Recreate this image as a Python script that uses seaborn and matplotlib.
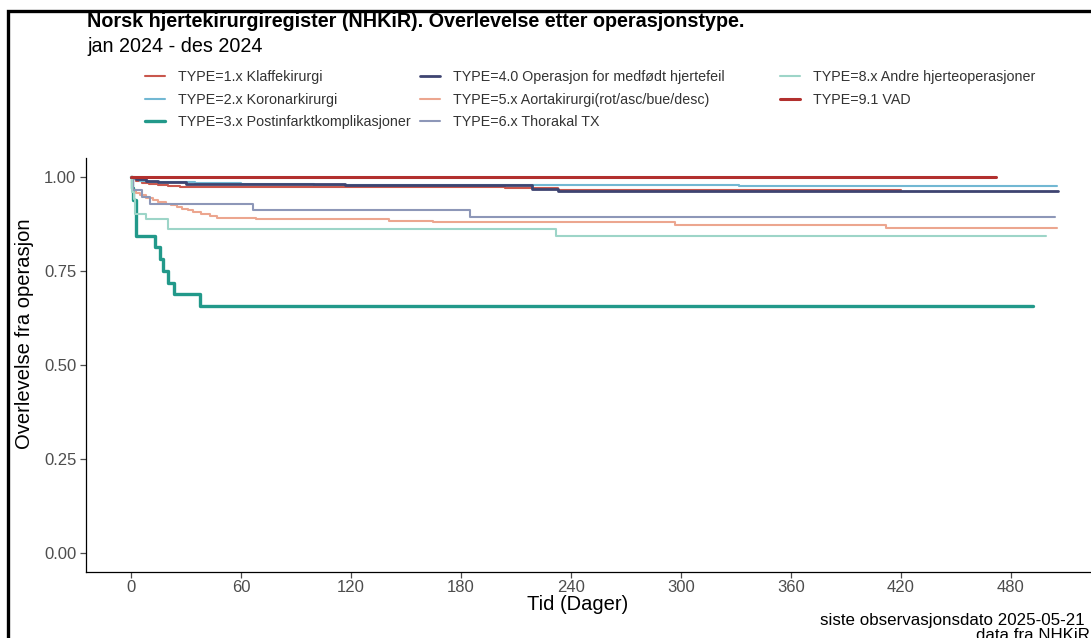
import matplotlib
matplotlib.use("Agg")
import matplotlib.pyplot as plt
import numpy as np
import pandas as pd
import seaborn as sns
from matplotlib.lines import Line2D
from matplotlib.patches import Rectangle

# ---- Kaplan-Meier step data per operation type (days, survival) ----
typer = [
    "TYPE=1.x Klaffekirurgi",
    "TYPE=2.x Koronarkirurgi",
    "TYPE=3.x Postinfarktkomplikasjoner",
    "TYPE=4.0 Operasjon for medfødt hjertefeil",
    "TYPE=5.x Aortakirurgi(rot/asc/bue/desc)",
    "TYPE=6.x Thorakal TX",
    "TYPE=8.x Andre hjerteoperasjoner",
    "TYPE=9.1 VAD",
]

dag_1x = [0, 1, 3, 6, 10, 15, 20, 27, 81, 204, 233]
overl_1x = [1.0, 0.993, 0.988, 0.984, 0.980, 0.978, 0.976, 0.974, 0.972, 0.969, 0.965]

dag_2x = [0, 2, 5, 10, 20, 35, 60, 100, 332]
overl_2x = [1.0, 0.995, 0.990, 0.987, 0.985, 0.983, 0.981, 0.979, 0.975]

dag_3x = [0, 0.5, 1, 3, 13, 16, 17.5, 20, 23.5, 37.5]
overl_3x = [1.0, 0.969, 0.9375, 0.844, 0.8125, 0.781, 0.750, 0.719, 0.6875, 0.656]

dag_40 = [0, 3, 8, 15, 30, 117, 219, 233]
overl_40 = [1.0, 0.995, 0.990, 0.986, 0.982, 0.977, 0.968, 0.961]

dag_5x = [0, 0.5, 1, 3, 5, 8, 12, 15, 19, 22, 25, 28, 31, 34, 38, 43, 47, 68, 141, 165, 297, 412]
overl_5x = [1.0, 0.985, 0.964, 0.958, 0.951, 0.945, 0.938, 0.933, 0.929, 0.924, 0.920,
            0.915, 0.911, 0.906, 0.902, 0.897, 0.891, 0.889, 0.882, 0.880, 0.873, 0.864]

dag_6x = [0, 1.3, 5.8, 10.4, 66.7, 185]
overl_6x = [1.0, 0.964, 0.946, 0.929, 0.911, 0.893]

dag_8x = [0, 0.5, 1.5, 2.5, 8.5, 20, 232]
overl_8x = [1.0, 0.960, 0.940, 0.902, 0.889, 0.862, 0.844]

dag_91 = [0]
overl_91 = [1.0]

# last day of follow-up for each curve
siste_dag = [420, 505, 492, 506, 505, 504, 499, 472]

farger = ["#C9574D", "#72B8D3", "#22998A", "#3E4471", "#ECA68F", "#8D97B8", "#9DD5C8", "#B2302E"]
linjebredde = [1.5, 1.5, 2.4, 2.0, 1.5, 1.5, 1.5, 2.2]

alle_dager = [dag_1x, dag_2x, dag_3x, dag_40, dag_5x, dag_6x, dag_8x, dag_91]
alle_overl = [overl_1x, overl_2x, overl_3x, overl_40, overl_5x, overl_6x, overl_8x, overl_91]

rader = []
for navn, d, s, slutt in zip(typer, alle_dager, alle_overl, siste_dag):
    for dd, ss in zip(list(d) + [slutt], list(s) + [s[-1]]):
        rader.append({"type": navn, "dag": dd, "overlevelse": ss})
df = pd.DataFrame(rader)

# ---- figure ----
W, H = 1091, 638
sns.set_theme(style="ticks")
plt.rcParams["font.family"] = ["Liberation Sans", "DejaVu Sans"]

fig = plt.figure(figsize=(W / 100, H / 100), dpi=100)
fig.patch.set_facecolor("white")


def fx(x):
    return x / W


def fy(y):
    return 1 - y / H


# outer frame
fig.patches.append(Rectangle((fx(8), fy(700)), fx(1200), (700 - 11) / H,
                             transform=fig.transFigure, fill=False,
                             edgecolor="black", linewidth=2.4))

ax = fig.add_axes([fx(86), fy(572), fx(1105) - fx(86), fy(158) - fy(572)])
ax.set_facecolor("white")

for navn, farge, lw in zip(typer, farger, linjebredde):
    sub = df[df["type"] == navn]
    sns.lineplot(data=sub, x="dag", y="overlevelse", ax=ax, color=farge,
                 linewidth=lw, drawstyle="steps-post", estimator=None,
                 sort=False, legend=False)

ax.set_xlim(-24.5, 531.4)
ax.set_ylim(-0.05, 1.05)
ax.set_xticks(np.arange(0, 481, 60))
ax.set_yticks([0, 0.25, 0.5, 0.75, 1.0])
ax.set_yticklabels([f"{v:.2f}" for v in [0, 0.25, 0.5, 0.75, 1.0]])
ax.set_xlabel("")
ax.set_ylabel("")
ax.tick_params(axis="both", labelsize=12, colors="#4D4D4D", length=4, width=0.9,
               labelcolor="#4D4D4D")
ax.tick_params(axis="x", pad=1.5)
ax.tick_params(axis="y", pad=3)
for side in ["top", "right"]:
    ax.spines[side].set_visible(False)
for side in ["left", "bottom"]:
    ax.spines[side].set_color("black")
    ax.spines[side].set_linewidth(0.9)

# titles and axis labels
fig.text(fx(87), fy(27), "Norsk hjertekirurgiregister (NHKiR). Overlevelse etter operasjonstype.",
         fontsize=14.2, fontweight="bold", color="black", va="baseline", ha="left")
fig.text(fx(87), fy(52), "jan 2024 - des 2024", fontsize=14.2, color="black",
         va="baseline", ha="left")
fig.text(fx(578), fy(605), "Tid (Dager)", fontsize=14.5, color="black", ha="center", va="center")
fig.text(fx(25), fy(334), "Overlevelse fra operasjon", fontsize=14.5, color="black",
         rotation=90, ha="center", va="center")
fig.text(fx(1085), fy(621), "siste observasjonsdato 2025-05-21", fontsize=12.2,
         color="black", ha="right", va="center")
fig.text(fx(1090), fy(635), "data fra NHKiR", fontsize=12.2, color="black",
         ha="right", va="center")

# legend: three columns, column-major order
handles = [Line2D([0], [0], color=f, lw=lw) for f, lw in zip(farger, linjebredde)]
kolonner = [(0, 3, 145), (3, 6, 420), (6, 8, 780)]
for start, stopp, xpos in kolonner:
    leg = fig.legend(handles[start:stopp], typer[start:stopp], ncol=1, loc="upper left",
                     bbox_to_anchor=(fx(xpos), fy(70)), frameon=False, fontsize=10.3,
                     handlelength=1.4, handletextpad=0.92, labelspacing=0.6,
                     borderpad=0, borderaxespad=0, labelcolor="#333333")

fig.savefig("out.png", dpi=100)
